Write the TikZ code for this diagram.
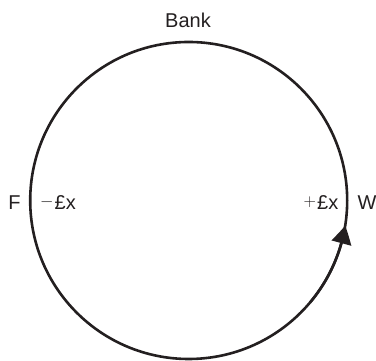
\documentclass[tikz,border=0pt]{standalone}
\usepackage{fontspec}
\setmainfont{Liberation Sans}
\usetikzlibrary{arrows.meta,bending}
\definecolor{ink}{HTML}{231F20}
\newcommand{\msym}[1]{\raisebox{3.0pt}{\fontsize{18}{20}\selectfont$#1$}}
\begin{document}
\begin{tikzpicture}[x=1pt,y=1pt,
  lbl/.style={anchor=base,inner sep=0pt,font=\fontsize{20}{24}\selectfont,text=ink},
  ring/.style={draw=ink,line width=2.6pt}]
\useasboundingbox (0,0) rectangle (376,361);
\coordinate (c) at (188.7,160.5);
\draw[ring] (c) circle[radius=158.5];
\draw[ring,-{Triangle[length=18pt,width=20pt,bend]}]
  ([shift={(-40:158.5)}]c) arc[start angle=-40,end angle=-9.1,radius=158.5];
\node[lbl] (bank) at (188,333) {Bank};
\node[lbl] (f) at (14.5,151) {F};
\node[lbl] (fm) at (58,151) {\msym{-}\hspace{1pt}£x};
\node[lbl] (wp) at (321,151) {\msym{+}\hspace{1pt}£x};
\node[lbl] (w) at (367,151) {W};
\end{tikzpicture}
\end{document}
